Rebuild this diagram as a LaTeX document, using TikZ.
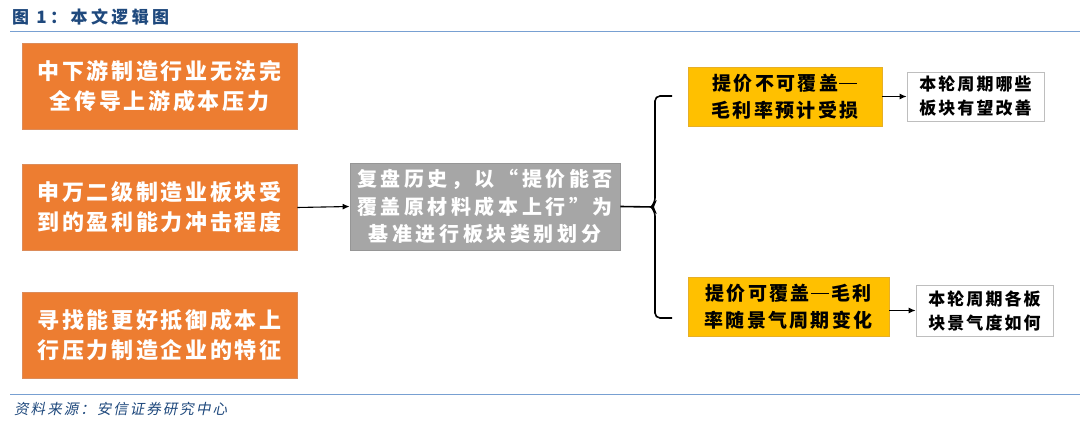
\documentclass[tikz,border=0pt]{standalone}
\usepackage{fontspec}
\usetikzlibrary{arrows.meta}
\newfontfamily\cjk{Noto Sans CJK SC}
\newfontfamily\cjkttl[LetterSpace=20]{Noto Sans CJK SC}
\newfontfamily\cjksp[LetterSpace=12]{Noto Sans CJK SC}
\newfontfamily\cjkwide[LetterSpace=18]{Noto Sans CJK SC}
\newfontfamily\cjkit[FakeSlant=0.2,LetterSpace=14]{Noto Sans CJK SC}
\newcommand{\emd}{\hspace{0.06em}\rule[0.33em]{0.95em}{1.3pt}\hspace{0.12em}}
\definecolor{ttlblue}{RGB}{31,73,125}
\definecolor{rulblue}{RGB}{120,160,210}
\definecolor{orng}{RGB}{237,125,49}
\definecolor{orngb}{RGB}{220,140,90}
\definecolor{gryf}{RGB}{166,166,166}
\definecolor{gryb}{RGB}{150,150,150}
\definecolor{ylw}{RGB}{255,192,0}
\definecolor{ylwb}{RGB}{230,175,40}
\definecolor{whb}{RGB}{190,190,190}
\begin{document}
\begin{tikzpicture}[x=1pt,y=-1pt,
  orangebox/.style={fill=orng,draw=orngb,line width=0.8pt,text=white,align=center,
    minimum width=275pt,minimum height=86pt,inner sep=0pt,
    font=\cjksp\bfseries\fontsize{22}{30}\selectfont},
  graybox/.style={fill=gryf,draw=gryb,line width=0.8pt,text=white,align=center,
    minimum width=270pt,minimum height=87pt,inner sep=0pt,
    font=\cjkwide\bfseries\fontsize{20}{27.5}\selectfont},
  yellowbox/.style={fill=ylw,draw=ylwb,line width=0.8pt,text=black,align=center,
    minimum height=59pt,inner sep=0pt,
    font=\cjksp\bfseries\fontsize{19}{27}\selectfont},
  whitebox/.style={fill=white,draw=whb,line width=0.8pt,text=black,align=center,
    minimum width=137pt,inner sep=0pt,
    font=\cjksp\bfseries\fontsize{17}{24}\selectfont},
  arr/.style={line width=1.1pt,-{Latex[length=7pt,width=6pt]}},
  bracel/.style={line width=1.6pt}
]
\useasboundingbox (0,0) rectangle (1080,422);
\fill[white] (0,0) rectangle (1080,422);
% title and rules
\node[anchor=west,text=ttlblue,inner sep=0pt,font=\cjkttl\bfseries\fontsize{17}{19}\selectfont] (title) at (12,17) {图 1：本文逻辑图};
\draw[rulblue,line width=1pt] (10,32) -- (1080,32);
\draw[rulblue,line width=1pt] (10,394) -- (1080,394);
\node[anchor=west,text=ttlblue,inner sep=0pt,font=\cjkit\fontsize{14.5}{16}\selectfont] (src) at (14,409) {资料来源：安信证券研究中心};
% left boxes
\node[orangebox] (o1) at (159.5,86.5) {中下游制造行业无法完\\全传导上游成本压力};
\node[orangebox] (o2) at (159.5,207.5) {申万二级制造业板块受\\到的盈利能力冲击程度};
\node[orangebox] (o3) at (159.5,335) {寻找能更好抵御成本上\\行压力制造企业的特征};
% middle
\node[graybox] (g) at (485,206.5) {复盘历史，以“提价能否\\覆盖原材料成本上行”为\\基准进行板块类别划分};
\draw[arr] (o2.east) -- (g.west);
% brace
\coordinate (bm) at (653,207);
\coordinate (bt) at (672,96);
\coordinate (bb) at (672,318);
\draw[bracel] (g.east) -- (bm);
\draw[bracel,rounded corners=5pt] (bt) -- (655,96) -- (655,203) -- (651,207) -- (655,211) -- (655,318) -- (bb);
% right
\node[yellowbox,minimum width=194pt] (y1) at (785,96.5) {提价不可覆盖\emd\\毛利率预计受损};
\node[yellowbox,minimum width=201pt] (y2) at (788.5,306.5) {提价可覆盖\emd 毛利\\率随景气周期变化};
\node[whitebox,minimum height=49pt] (w1) at (975.5,96.5) {本轮周期哪些\\板块有望改善};
\node[whitebox,minimum height=51pt] (w2) at (984.5,310.5) {本轮周期各板\\块景气度如何};
\draw[arr] (y1.east) -- (w1.west);
\draw[arr] (y2.east |- w2.west) -- (w2.west);
\end{tikzpicture}
\end{document}
